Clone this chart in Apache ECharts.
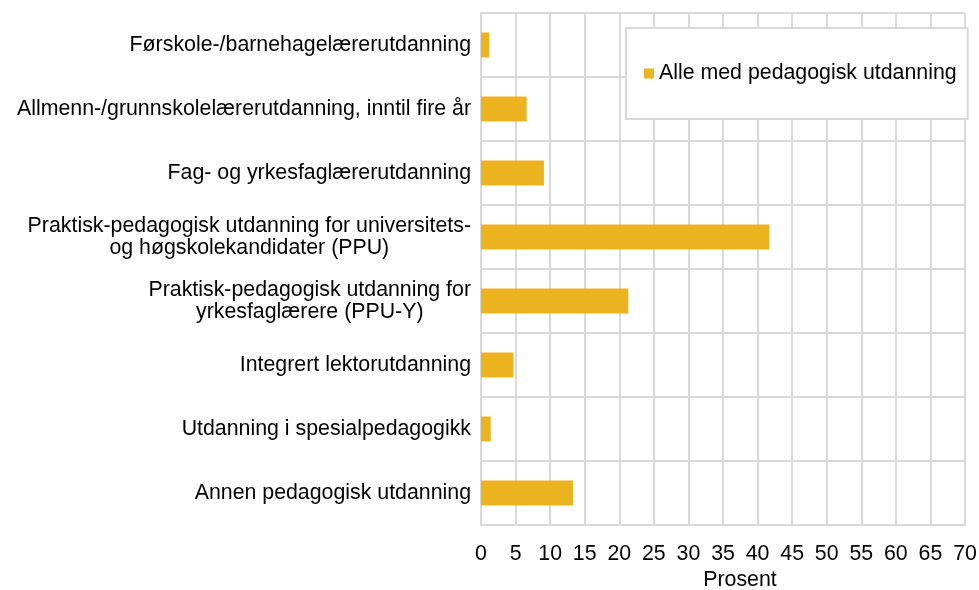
<!DOCTYPE html>
<html>
<head>
<meta charset="utf-8">
<title>Pedagogisk utdanning</title>
<script src="https://cdn.jsdelivr.net/npm/echarts@6/dist/echarts.min.js"></script>
<style>
    html, body {
        margin: 0;
        padding: 0;
        background: #fff;
    }
    #chart {
        width: 979px;
        height: 590px;
    }
</style>
</head>
<body>
<div id="chart"></div>
<script>
// categories top to bottom
const categories = [
    'Førskole-/barnehagelærerutdanning',
    'Allmenn-/grunnskolelærerutdanning, inntil fire år',
    'Fag- og yrkesfaglærerutdanning',
    'Praktisk-pedagogisk utdanning for universitets-\nog høgskolekandidater (PPU)',
    'Praktisk-pedagogisk utdanning for\nyrkesfaglærere (PPU-Y)',
    'Integrert lektorutdanning',
    'Utdanning i spesialpedagogikk',
    'Annen pedagogisk utdanning',
];
const seriesName = 'Alle med pedagogisk utdanning';
const values = [1.2, 6.6, 9.1, 41.7, 21.3, 4.7, 1.4, 13.3];
const xTicks = { min: 0, max: 70, step: 5 };
const axisTitle = 'Prosent';

const FONT = "'Liberation Sans', Arial, sans-serif";
const FONT_SIZE = 21.33;
const GRID_COLOR = '#d9d9d9';
const BAR_COLOR = '#ebb31f';

const myChart = echarts.init(document.getElementById('chart'));

const option = {
    animation: false,
    backgroundColor: '#fff',
    textStyle: {
        fontFamily: FONT,
    },
    legend: {
        data: [seriesName],
        left: 626,
        top: 28,
        padding: [35, 11, 35, 18],
        backgroundColor: '#fff',
        borderColor: GRID_COLOR,
        borderWidth: 2,
        icon: 'rect',
        itemWidth: 10,
        itemHeight: 10,
        itemGap: 5,
        textStyle: {
            fontFamily: FONT,
            fontSize: FONT_SIZE,
            color: '#000',
        },
    },
    grid: {
        left: 481,
        right: 14,
        top: 13,
        bottom: 65,
        containLabel: false,
        outerBoundsMode: 'none',
    },
    xAxis: {
        type: 'value',
        min: xTicks.min,
        max: xTicks.max,
        interval: xTicks.step,
        name: axisTitle,
        nameLocation: 'middle',
        nameGap: 43,
        nameTextStyle: {
            fontFamily: FONT,
            fontSize: FONT_SIZE,
            color: '#000',
            padding: [0, 0, 0, 34],
        },
        axisLine: {
            show: true,
            lineStyle: { color: GRID_COLOR, width: 2 },
        },
        axisTick: { show: false },
        axisLabel: {
            fontFamily: FONT,
            fontSize: FONT_SIZE,
            color: '#000',
            margin: 19,
        },
        splitLine: {
            show: true,
            lineStyle: { color: GRID_COLOR, width: 2 },
        },
    },
    yAxis: {
        type: 'category',
        inverse: true,
        data: categories,
        axisLine: {
            show: true,
            lineStyle: { color: GRID_COLOR, width: 2 },
        },
        axisTick: { show: false },
        splitLine: {
            show: true,
            lineStyle: { color: GRID_COLOR, width: 2 },
        },
        axisLabel: {
            margin: 10,
            align: 'right',
            // each line centred inside the label block, block right-aligned to the axis
            formatter: (value) => value.split('\n').map((line) => `{c|${line}}`).join('\n'),
            rich: {
                c: {
                    align: 'center',
                    fontFamily: FONT,
                    fontSize: FONT_SIZE,
                    lineHeight: 22,
                    color: '#000',
                },
            },
        },
    },
    series: [
        {
            name: seriesName,
            type: 'bar',
            data: values,
            barWidth: 25,
            itemStyle: { color: BAR_COLOR },
        },
    ],
};

myChart.setOption(option);
</script>
</body>
</html>
